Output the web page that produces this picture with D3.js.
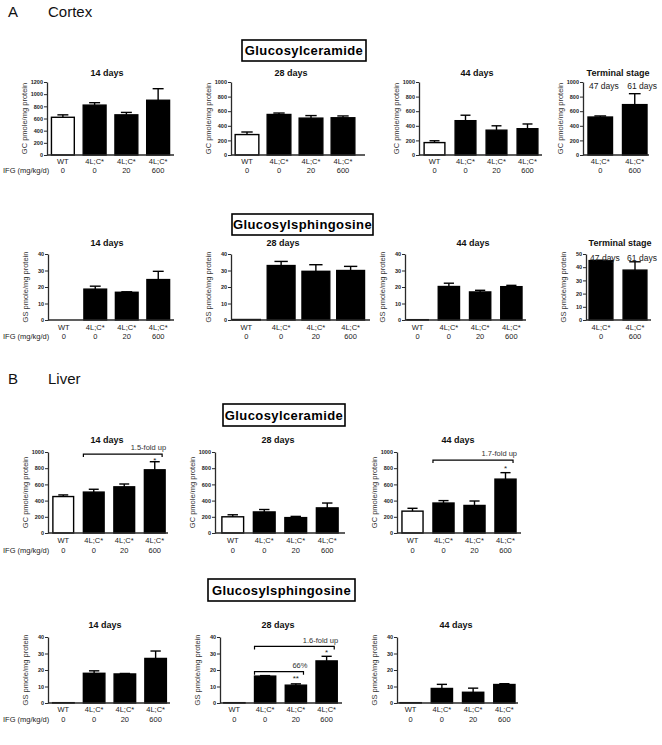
<!DOCTYPE html>
<html><head><meta charset="utf-8">
<script src="https://cdn.jsdelivr.net/npm/d3@7"></script>
<style>body{margin:0;background:#fff}svg{display:block;font-family:"Liberation Sans",Arial,sans-serif}</style>
</head><body><svg id="c" width="662" height="745"></svg>
<script>
// ---------- data ----------
const groupLabels = ["WT","4L;C*","4L;C*","4L;C*"];
const doseLabels = ["0","0","20","600"];
const termGroupLabels = ["4L;C*","4L;C*"];
const termDoseLabels = ["0","600"];
const termDayLabels = ["47 days","61 days"];
const ticksGC1200 = [0,200,400,600,800,1000,1200];
const ticksGC = [0,200,400,600,800,1000];
const ticksGS = [0,10,20,30,40];
const ticksGS50 = [0,10,20,30,40,50];

// Cortex – glucosylceramide (pmole/mg protein)
const cortexGC14 = [620,820,660,900], cortexGC14Err = [40,40,40,190];
const cortexGC28 = [280,555,505,510], cortexGC28Err = [35,20,35,25];
const cortexGC44 = [170,470,340,360], cortexGC44Err = [25,75,60,65];
const cortexGCTerm = [520,690], cortexGCTermErr = [15,150];
// Cortex – glucosylsphingosine
const cortexGS14 = [0,18.7,16.8,24.5], cortexGS14Err = [0,1.8,0.3,5];
const cortexGS28 = [0.3,33,29.5,30], cortexGS28Err = [0,2.5,4,2.5];
const cortexGS44 = [0.2,20.3,17,20.2], cortexGS44Err = [0,2,1,0.8];
const cortexGSTerm = [45,37.8], cortexGSTermErr = [0.3,6.3];
// Liver – glucosylceramide
const liverGC14 = [450,505,570,780], liverGC14Err = [20,35,35,100];
const liverGC28 = [200,260,190,310], liverGC28Err = [25,30,15,60];
const liverGC44 = [270,370,340,665], liverGC44Err = [35,30,55,80];
// Liver – glucosylsphingosine
const liverGS14 = [0.2,18,17.6,27], liverGS14Err = [0,1.5,0.3,4.5];
const liverGS28 = [0.2,16.3,10.8,25.5], liverGS28Err = [0,0.3,0.8,2.8];
const liverGS44 = [0.2,8.8,6.5,11.2], liverGS44Err = [0,2.5,2.5,0.5];

// annotations: [fromIndex, toIndex, bracketValue, text, textValue, starText, starValue, starIndex]
const liverGC14Notes = [[1,3,975,"1.5-fold up",1030,"*",905,3]];
const liverGC44Notes = [[1,3,900,"1.7-fold up",955,"*",800,3]];
const liverGS28Notes = [[1,3,34.3,"1.6-fold up",36.5,"*",30.8,3],[1,2,19,"66%",21,"**",15.3,2]];

// ---------- layout ----------
const svg = d3.select("#c");
const FONT = '"Liberation Sans",Arial,sans-serif';

const rows = [
  {top:82, base:155, titleY:76, lab1:164, lab2:173},
  {top:254, base:320, titleY:246, lab1:330, lab2:339},
  {top:452, base:533, titleY:443, lab1:543, lab2:553},
  {top:637, base:703, titleY:628, lab1:712, lab2:722}
];

const panels = [
  // row 1
  {row:0, title:"14 days", tx:107, x0:47, b0:47, b1:174, x1:174, pad:0.28, max:1200, ticks:ticksGC1200, ylab:"GC pmole/mg protein", v:cortexGC14, e:cortexGC14Err, ifg:true},
  {row:0, title:"28 days", tx:291, x0:231, b0:231, b1:359, x1:365, pad:0.26, max:1000, ticks:ticksGC, ylab:"GC pmole/mg protein", v:cortexGC28, e:cortexGC28Err},
  {row:0, title:"44 days", tx:477, x0:419, b0:419, b1:543, x1:542, pad:0.33, max:1000, ticks:ticksGC, ylab:"GC pmole/mg protein", v:cortexGC44, e:cortexGC44Err},
  {row:0, title:"Terminal stage", tx:618, x0:583, b0:583, b1:652, x1:649, pad:0.29, max:1000, ticks:ticksGC, ylab:"GC pmole/mg protein", v:cortexGCTerm, e:cortexGCTermErr, term:true},
  // row 2
  {row:1, title:"14 days", tx:107, x0:48, b0:48, b1:174, x1:174, pad:0.28, max:40, ticks:ticksGS, ylab:"GS pmole/mg protein", v:cortexGS14, e:cortexGS14Err, ifg:true},
  {row:1, title:"28 days", tx:283, x0:231, b0:229, b1:368, x1:370, pad:0.2, max:40, ticks:ticksGS, ylab:"GS pmole/mg protein", v:cortexGS28, e:cortexGS28Err},
  {row:1, title:"44 days", tx:473, x0:405, b0:402, b1:527, x1:526, pad:0.32, max:40, ticks:ticksGS, ylab:"GS pmole/mg protein", v:cortexGS44, e:cortexGS44Err},
  {row:1, title:"Terminal stage", tx:620, x0:586, b0:584, b1:652, x1:651, pad:0.3, max:50, ticks:ticksGS50, ylab:"GS pmole/mg protein", v:cortexGSTerm, e:cortexGSTermErr, term:true},
  // row 3
  {row:2, title:"14 days", tx:107, x0:48, b0:48, b1:170, x1:168, pad:0.32, max:1000, ticks:ticksGC, ylab:"GC pmole/mg protein", v:liverGC14, e:liverGC14Err, ifg:true, notes:liverGC14Notes},
  {row:2, title:"28 days", tx:278, x0:215, b0:217, b1:343, x1:345, pad:0.31, max:1000, ticks:ticksGC, ylab:"GC pmole/mg protein", v:liverGC28, e:liverGC28Err},
  {row:2, title:"44 days", tx:458, x0:397, b0:397, b1:521, x1:521, pad:0.32, max:1000, ticks:ticksGC, ylab:"GC pmole/mg protein", v:liverGC44, e:liverGC44Err, notes:liverGC44Notes},
  // row 4
  {row:3, title:"14 days", tx:105, x0:48, b0:48, b1:171, x1:170, pad:0.3, max:40, ticks:ticksGS, ylab:"GS pmole/mg protein", v:liverGS14, e:liverGS14Err, ifg:true},
  {row:3, title:"28 days", tx:278, x0:220, b0:219, b1:342, x1:342, pad:0.31, max:40, ticks:ticksGS, ylab:"GS pmole/mg protein", v:liverGS28, e:liverGS28Err, notes:liverGS28Notes},
  {row:3, title:"44 days", tx:456, x0:397, b0:395, b1:520, x1:518, pad:0.32, max:40, ticks:ticksGS, ylab:"GS pmole/mg protein", v:liverGS44, e:liverGS44Err}
];

const boxes = [
  {text:"Glucosylceramide", x:242, y:40, w:124, h:21},
  {text:"Glucosylsphingosine", x:232, y:214, w:141, h:21},
  {text:"Glucosylceramide", x:223, y:404, w:122, h:22},
  {text:"Glucosylsphingosine", x:208, y:579, w:147, h:22}
];
const sections = [
  {letter:"A", name:"Cortex", y:17},
  {letter:"B", name:"Liver", y:384}
];

// ---------- drawing ----------
const AX = "#2a2a2a";

sections.forEach(s => {
  svg.append("text").attr("x",8).attr("y",s.y).attr("font-size",15).attr("fill","#111").text(s.letter);
  svg.append("text").attr("x",48).attr("y",s.y).attr("font-size",15).attr("fill","#111").text(s.name);
});

boxes.forEach(b => {
  svg.append("rect").attr("x",b.x).attr("y",b.y).attr("width",b.w).attr("height",b.h)
    .attr("fill","#fff").attr("stroke","#000").attr("stroke-width",1.6);
  svg.append("text").attr("x",b.x+b.w/2).attr("y",b.y+b.h/2+4.5).attr("text-anchor","middle")
    .attr("font-size",13).attr("font-weight","bold").attr("letter-spacing",0.4).text(b.text);
});

panels.forEach(p => {
  const r = rows[p.row];
  const n = p.v.length;
  const g = svg.append("g");
  const x = d3.scaleBand().domain(d3.range(n)).range([p.b0,p.b1]).paddingInner(p.pad).paddingOuter(p.pad/2);
  const y = d3.scaleLinear().domain([0,p.max]).range([r.base,r.top]);
  const bw = x.bandwidth();

  // bars
  g.selectAll("rect.bar").data(p.v).join("rect")
    .attr("x",(d,i)=>x(i)).attr("y",d=>y(d))
    .attr("width",bw).attr("height",d=>r.base-y(d))
    .attr("fill",(d,i)=> (!p.term && i===0) ? "#fff" : "#000")
    .attr("stroke","#000").attr("stroke-width",(d)=> d>0 ? 1.4 : 0);

  // error bars (upper)
  p.v.forEach((d,i) => {
    const e = p.e[i]; if (!e) return;
    const cx = x(i)+bw/2, cw = bw*0.24;
    g.append("line").attr("x1",cx).attr("x2",cx).attr("y1",y(d)).attr("y2",y(d+e)).attr("stroke","#000").attr("stroke-width",1.4);
    g.append("line").attr("x1",cx-cw).attr("x2",cx+cw).attr("y1",y(d+e)).attr("y2",y(d+e)).attr("stroke","#000").attr("stroke-width",1.4);
  });

  // y axis
  const ya = g.append("g").attr("transform",`translate(${p.x0},0)`)
    .call(d3.axisLeft(y).tickValues(p.ticks).tickFormat(d3.format("d")).tickSize(3).tickPadding(1).tickSizeOuter(0));
  ya.select(".domain").attr("stroke",AX).attr("stroke-width",1.3);
  ya.selectAll(".tick line").attr("stroke",AX).attr("stroke-width",1);
  ya.selectAll(".tick text").attr("font-size",5.5).attr("font-family",FONT).attr("fill","#222").attr("font-weight","bold");
  // x axis line
  g.append("line").attr("x1",p.x0).attr("x2",p.x1).attr("y1",r.base).attr("y2",r.base).attr("stroke",AX).attr("stroke-width",1.3);

  // y axis title
  g.append("text").attr("transform",`translate(${p.x0-20},${(r.top+r.base)/2}) rotate(-90)`)
    .attr("text-anchor","middle").attr("font-size",7.5).attr("fill","#333").text(p.ylab);

  // title
  g.append("text").attr("x",p.tx).attr("y",r.titleY).attr("text-anchor","middle")
    .attr("font-size",9).attr("font-weight","bold").attr("fill","#111").text(p.title);

  // x labels
  const gl = p.term ? termGroupLabels : groupLabels;
  const dl = p.term ? termDoseLabels : doseLabels;
  gl.forEach((t,i)=> g.append("text").attr("x",x(i)+bw/2).attr("y",r.lab1).attr("text-anchor","middle").attr("font-size",7.5).attr("fill","#222").text(t));
  dl.forEach((t,i)=> g.append("text").attr("x",x(i)+bw/2).attr("y",r.lab2).attr("text-anchor","middle").attr("font-size",7.5).attr("fill","#222").text(t));
  if (p.ifg) g.append("text").attr("x",3).attr("y",r.lab2).attr("font-size",7.5).attr("fill","#222").text("IFG (mg/kg/d)");

  // terminal day labels (first starts just right of axis, second ends past right edge of last bar)
  if (p.term) termDayLabels.forEach((t,i)=> g.append("text")
      .attr("x", i===0 ? x(0)+1 : x(n-1)+bw+10).attr("y",r.top+7)
      .attr("text-anchor", i===0 ? "start" : "end").attr("font-size",8.5).attr("fill","#222").text(t));

  // significance annotations
  (p.notes||[]).forEach(nt => {
    const [a,b,bv,txt,tv,st,sv,si] = nt;
    const xa = x(a), xb = x(b)+bw-3, yb = y(bv);
    g.append("path").attr("d",`M${xa},${yb+3}V${yb}H${xb}V${yb+3}`).attr("fill","none").attr("stroke","#000").attr("stroke-width",1.2);
    g.append("text").attr("x",xb+4).attr("y",y(tv)).attr("text-anchor","end").attr("font-size",7.5).attr("fill","#333").text(txt);
    g.append("text").attr("x",x(si)+bw/2).attr("y",y(sv)+3).attr("text-anchor","middle").attr("font-size",8).attr("fill","#222").text(st);
  });
});
</script></body></html>
